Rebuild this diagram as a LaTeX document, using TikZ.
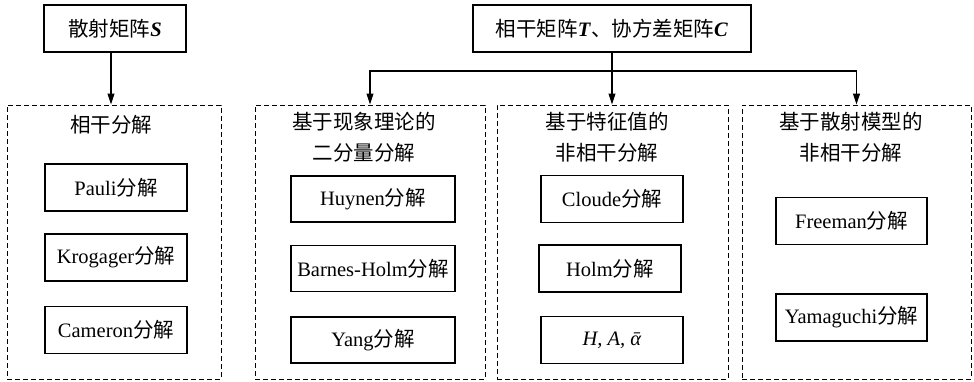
\documentclass[tikz,border=0pt]{standalone}
\usepackage{fontspec}
\setmainfont{Liberation Serif}
\newfontfamily\cjk{Noto Sans CJK SC}
\usetikzlibrary{arrows.meta}
\newcommand{\fenjie}{{\cjk 分解}}
\begin{document}
\begin{tikzpicture}[x=1pt,y=-1pt,
  every node/.style={font=\fontsize{20.5}{31}\selectfont, inner sep=0pt},
  title/.style={font=\fontsize{20.5}{31}\selectfont\cjk, align=center},
  sbox/.style={draw, line width=1.1pt, minimum height=47pt, minimum width=142pt},
  grp/.style={draw, line width=1pt, dash pattern=on 5pt off 3pt, minimum width=#1, minimum height=274pt},
  arr/.style={line width=1.1pt, -{Triangle[length=11pt,width=7pt]}}]
\useasboundingbox (0,0) rectangle (974,381);

% top boxes
\node[sbox] (S) at (115,28.5) {{\cjk 散射矩阵}\textbf{\textit{S}}};
\node[sbox, minimum width=278pt] (TC) at (612,28.5) {{\cjk 相干矩阵}\textbf{\textit{T}}{\cjk 、协方差矩阵}\textbf{\textit{C}}};

% group boxes
\node[grp=214pt] (g1) at (114,242) {};
\node[grp=230pt] (g2) at (370,242) {};
\node[grp=231pt] (g3) at (612.5,242) {};
\node[grp=229pt] (g4) at (856.5,242) {};

% titles
\node[title] (t1) at (111,125) {相干分解};
\node[title] (t2) at (364,137) {基于现象理论的\\二分量分解};
\node[title] (t3) at (607,137) {基于特征值的\\非相干分解};
\node[title] (t4) at (851,137) {基于散射模型的\\非相干分解};

% group 1
\node[sbox] (pauli) at (116,187.5) {Pauli\fenjie};
\node[sbox] (krog) at (116,257.5) {Krogager\fenjie};
\node[sbox] (cam) at (116,330) {Cameron\fenjie};

% group 2
\node[sbox, minimum width=164pt, minimum height=46pt] (huy) at (373,199) {Huynen\fenjie};
\node[sbox, minimum width=164pt, minimum height=46pt] (bh) at (373,268.5) {Barnes-Holm\fenjie};
\node[sbox, minimum width=164pt, minimum height=46pt] (yang) at (373,340) {Yang\fenjie};

% group 3
\node[sbox] (cl) at (612,199) {Cloude\fenjie};
\node[sbox] (holm) at (610,268.5) {Holm\fenjie};
\node[sbox] (haa) at (612,340) {\textit{H, A, \=α}};

% group 4
\node[sbox, minimum width=151pt] (fr) at (851.5,221) {Freeman\fenjie};
\node[sbox, minimum width=151pt] (yam) at (851.5,317.5) {Yamaguchi\fenjie};

% connectors
\draw[arr] ([xshift=-4pt]S.south) -- ([xshift=-4pt]S.south |- g1.north);
\coordinate (j) at (612,71);
\draw[arr] (TC.south) -- (g3.north -| TC.south);
\draw[arr] (j) -| (g2.north);
\draw[arr] (j) -| (g4.north);
\end{tikzpicture}
\end{document}
